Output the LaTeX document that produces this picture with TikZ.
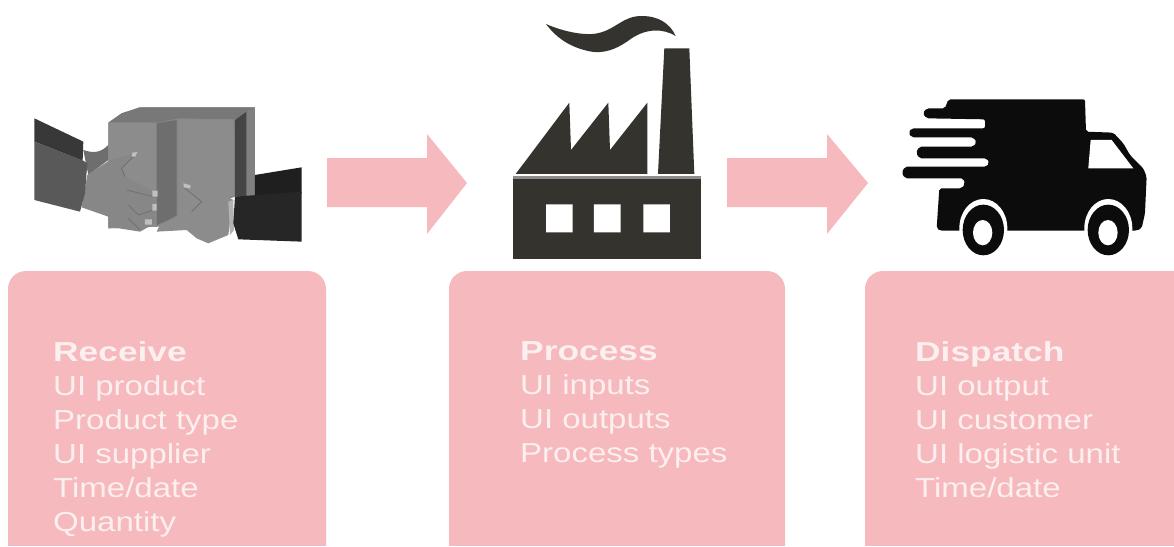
\documentclass[tikz,border=0pt]{standalone}
\usepackage{fontspec}
\setmainfont[FakeStretch=1.2,BoldFeatures={FakeStretch=1.285}]{Liberation Sans}
\definecolor{pinkbox}{HTML}{F6B9BD}
\definecolor{pinktext}{HTML}{FCEFEF}
\definecolor{factory}{HTML}{35332E}
\definecolor{truck}{HTML}{0C0C0C}
\tikzset{
  panel/.style={fill=pinkbox,draw=none},
  flow/.style={fill=pinkbox,draw=none},
  label/.style={text=pinktext,anchor=north west,align=left,inner sep=0pt,font=\fontsize{27.5}{34}\selectfont},
  icon/.style={x=.3333pt,y=-.3333pt}
}
\begin{document}
\begin{tikzpicture}[x=1pt,y=-1pt]
\useasboundingbox (0,0) rectangle (1174,546);
\fill[white] (0,0) rectangle (1174,546);
% panels
\path[panel,rounded corners=18pt] (8,560) -- (8,271) -- (326,271) -- (326,560);
\path[panel,rounded corners=18pt] (449,560) -- (449,271) -- (785,271) -- (785,560);
\path[panel,rounded corners=18pt] (865,560) -- (865,271) -- (1190,271) -- (1190,560);
\fill[white] (0,546) rectangle (1174,570);
% flow arrows
\path[flow] (327,158) -- (427,158) -- (427,134) -- (467,183) -- (427,234) -- (427,207) -- (327,207) -- cycle;
\path[flow] (727,158) -- (827,158) -- (827,134) -- (868,183) -- (827,234) -- (827,207) -- (727,207) -- cycle;
% labels
\node[label] (receive) at (53,341) {\textbf{Receive}\\UI product\\Product type\\UI supplier\\Time/date\\Quantity};
\node[label] (process) at (520,341) {\textbf{Process}\\UI inputs\\UI outputs\\Process types};
\node[label] (dispatch) at (915,341) {\textbf{Dispatch}\\UI output\\UI customer\\UI logistic unit\\Time/date};
% hands and parcel
\begin{scope}[shift={(0pt,-80pt)},icon]
\fill[black!47] (325,128) -- (365,100) -- (420,82) -- (765,82) -- (765,350) -- (705,350) -- (480,440) -- (325,445) -- cycle;
\fill[black!53] (365,100) -- (420,82) -- (765,82) -- (705,118) -- (535,115) -- (470,128) -- (325,128) -- cycle;
\fill[black!45] (325,128) -- (470,128) -- (470,440) -- (325,445) -- cycle;
\fill[black!45] (535,118) -- (700,118) -- (705,345) -- (535,410) -- cycle;
\fill[black!57] (470,130) -- (530,120) -- (530,410) -- (470,435) -- cycle;
\fill[black!73] (705,120) -- (740,95) -- (740,350) -- (705,350) -- cycle;
\fill[black!50] (740,95) -- (765,82) -- (765,350) -- (740,350) -- cycle;
% left arm
\fill[black!57] (250,210) .. controls (285,222) and (305,215) .. (325,195) -- (325,240) -- (265,285) -- cycle;
\fill[black!47] (262,285) -- (330,240) -- (410,220) -- (365,265) -- (375,290) -- (465,335) -- (465,430) -- (420,455) -- (325,440) -- (325,410) -- (245,382) -- cycle;
\draw[black!56,line width=.8pt] (410,220) -- (365,265) -- (375,290) (380,330) -- (460,350) (385,375) -- (415,405) -- (460,390) (385,415) -- (420,450);
\fill[black!25] (397,218) -- (412,216) -- (406,230) -- (395,230) -- cycle (457,332) rectangle (473,350) (457,372) rectangle (470,392) (435,418) rectangle (456,434);
\fill[black!78] (103,115) -- (250,185) -- (248,242) -- (103,185) -- cycle;
\fill[black!65] (103,185) -- (250,242) -- (262,250) -- (255,340) -- (240,395) -- (103,360) -- cycle;
% right arm
\fill[black!45] (555,315) -- (680,350) -- (700,360) -- (685,465) -- (625,490) -- (590,475) -- (560,450) -- (470,455) -- (480,435) -- (605,365) -- (575,340) -- cycle;
\draw[black!56,line width=.8pt] (555,325) -- (605,365) -- (575,395);
\fill[black!25] (550,310) -- (572,316) -- (570,326) -- (552,322) -- cycle;
\fill[black!30] (685,365) -- (700,360) -- (702,450) -- (690,465) -- cycle;
\fill[black!88] (765,285) -- (905,262) -- (905,340) -- (765,350) -- cycle;
\fill[black!85] (705,350) -- (905,335) -- (905,485) -- (715,478) -- (700,430) -- cycle;
\end{scope}
% factory
\begin{scope}[shift={(500pt,0pt)},icon]
\fill[factory] (138,72) .. controls (190,95) and (260,110) .. (300,98) .. controls (350,85) and (370,48) .. (425,48) .. controls (475,48) and (510,70) .. (527,108) .. controls (490,85) and (440,85) .. (395,115) .. controls (350,148) and (310,165) .. (260,152) .. controls (210,140) and (170,115) .. cycle;
\fill[factory] (493,145) -- (568,145) -- (583,522) -- (474,522) -- cycle;
\fill[factory] (47,522) -- (208,308) -- (213,450) -- (325,308) -- (330,450) -- (442,308) -- (442,522) -- cycle;
\fill[factory] (40,530) rectangle (602,778);
\fill[black!45] (40,529) rectangle (602,536);
\fill[white] (138,613) rectangle (218,697) (282,613) rectangle (362,697) (430,613) rectangle (510,697);
\end{scope}
% truck
\begin{scope}[shift={(880pt,-80pt)},icon]
\fill[truck,rounded corners=2pt] (205,58) -- (615,58) -- (618,155) -- (700,158) -- (730,190) -- (750,225) -- (790,265) -- (800,290) -- (795,400) -- (785,445) -- (770,452) -- (180,452) -- (170,445) -- (178,325) -- (245,325) -- (255,312) -- (250,295) -- (75,295) -- (65,278) -- (75,260) -- (320,260) -- (328,248) -- (320,235) -- (118,235) -- (108,218) -- (118,200) -- (280,200) -- (290,187) -- (280,172) -- (95,172) -- (85,158) -- (95,145) -- (315,145) -- (315,118) -- (140,115) -- (128,100) -- (140,85) -- (195,85) -- cycle;
\fill[white] (632,180) -- (695,180) -- (760,265) -- (625,265) -- cycle;
\fill[white] (310,445) ellipse [x radius=72,y radius=88];
\fill[white] (685,445) ellipse [x radius=72,y radius=88];
\fill[white] (230,452) rectangle (390,530);
\fill[white] (610,452) rectangle (770,530);
\fill[truck] (310,450) ellipse [x radius=62,y radius=76];
\fill[truck] (685,450) ellipse [x radius=62,y radius=76];
\fill[white] (308,458) ellipse [x radius=29,y radius=38];
\fill[white] (684,458) ellipse [x radius=29,y radius=38];
\end{scope}
\end{tikzpicture}
\end{document}
